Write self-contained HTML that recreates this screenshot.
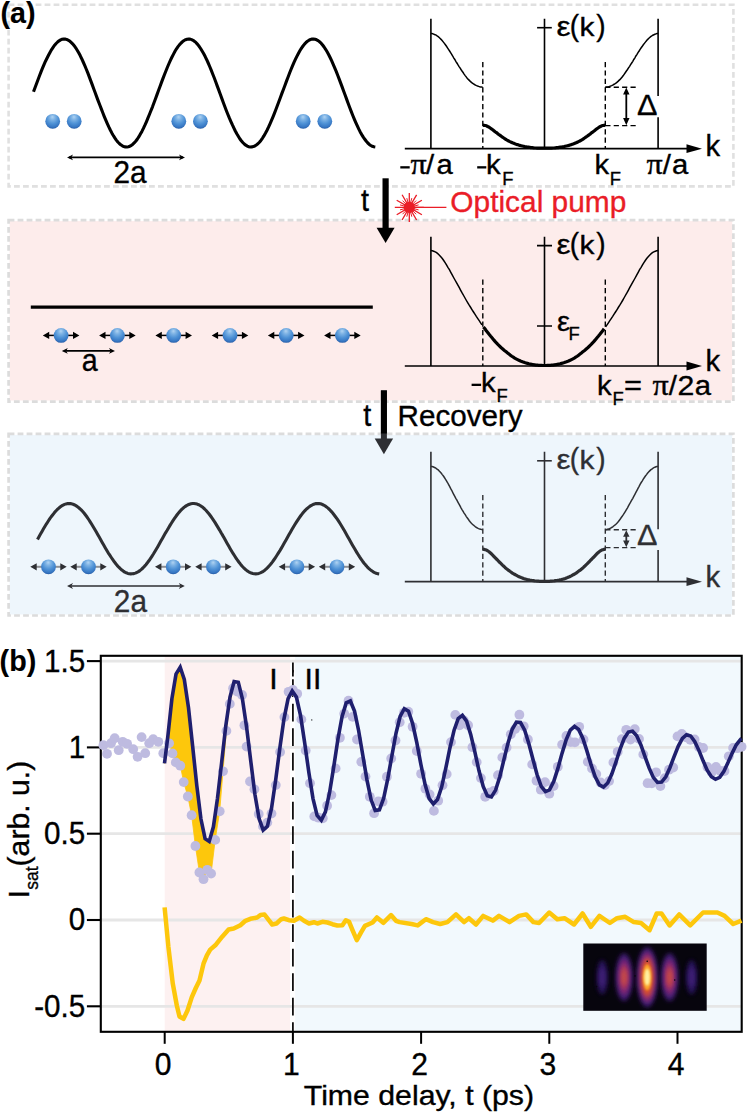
<!DOCTYPE html>
<html><head><meta charset="utf-8"><title>figure</title>
<style>html,body{margin:0;padding:0;background:#fff;}svg{display:block;font-family:"Liberation Sans",sans-serif;}.pi{font-family:"Liberation Serif",serif;}</style>
</head><body>
<svg width="747" height="1113" viewBox="0 0 747 1113">
<defs>
<radialGradient id="ball" cx="0.5" cy="0.32" r="0.72" fx="0.48" fy="0.2"><stop offset="0" stop-color="#b0d3f2"/><stop offset="0.25" stop-color="#7db2e4"/><stop offset="0.55" stop-color="#4f92d6"/><stop offset="0.82" stop-color="#3777c3"/><stop offset="1" stop-color="#23559e"/></radialGradient>
<filter id="blur2" x="-50%" y="-50%" width="200%" height="200%"><feGaussianBlur stdDeviation="2.2"/></filter>
<filter id="blur1" x="-50%" y="-50%" width="200%" height="200%"><feGaussianBlur stdDeviation="1.3"/></filter>
<clipPath id="insetclip"><rect x="583.3" y="943.5" width="123.4" height="67.3"/></clipPath>
<clipPath id="plotclip"><rect x="101" y="656" width="641" height="376"/></clipPath>
</defs>
<rect x="0" y="0" width="747" height="1113" fill="#fff"/>
<rect x="8.6" y="4.8" width="724.8" height="181.6" fill="none" stroke="#e0e0e0" stroke-width="2.6" stroke-dasharray="5.8 3.2"/>
<rect x="9.6" y="221.1" width="722.6" height="179.4" fill="#fdeceb" stroke="none"/>
<rect x="8.6" y="220.1" width="724.8" height="181.5" fill="none" stroke="#dcdcdc" stroke-width="2.7" stroke-dasharray="5.8 3.2"/>
<rect x="9.6" y="434.9" width="722.6" height="179.6" fill="#eef6fc" stroke="none"/>
<rect x="8.6" y="433.8" width="724.8" height="181.7" fill="none" stroke="#dcdcdc" stroke-width="2.7" stroke-dasharray="5.8 3.2"/>
<path d="M33.5 91.8 L35 87.7 L36.5 83.7 L38 79.7 L39.5 75.7 L41 71.9 L42.5 68.2 L44 64.6 L45.5 61.2 L47.1 58 L48.6 55 L50.1 52.2 L51.6 49.6 L53.1 47.3 L54.6 45.2 L56.1 43.5 L57.6 42 L59.1 40.8 L60.6 39.9 L62.1 39.3 L63.6 39 L65.1 39.1 L66.6 39.4 L68.1 40.1 L69.6 41 L71.1 42.3 L72.6 43.8 L74.2 45.7 L75.7 47.8 L77.2 50.2 L78.7 52.8 L80.2 55.6 L81.7 58.7 L83.2 62 L84.7 65.4 L86.2 69 L87.7 72.7 L89.2 76.6 L90.7 80.6 L92.2 84.6 L93.7 88.7 L95.2 92.8 L96.7 96.9 L98.2 100.9 L99.8 105 L101.3 108.9 L102.8 112.8 L104.3 116.6 L105.8 120.2 L107.3 123.6 L108.8 126.9 L110.3 130 L111.8 132.9 L113.3 135.5 L114.8 137.9 L116.3 140.1 L117.8 142 L119.3 143.5 L120.8 144.8 L122.3 145.8 L123.8 146.5 L125.3 146.9 L126.9 147 L128.4 146.7 L129.9 146.2 L131.4 145.3 L132.9 144.2 L134.4 142.7 L135.9 141 L137.4 139 L138.9 136.7 L140.4 134.1 L141.9 131.4 L143.4 128.4 L144.9 125.2 L146.4 121.8 L147.9 118.2 L149.4 114.5 L150.9 110.7 L152.5 106.8 L154 102.8 L155.5 98.7 L157 94.6 L158.5 90.5 L160 86.5 L161.5 82.4 L163 78.4 L164.5 74.5 L166 70.7 L167.5 67 L169 63.5 L170.5 60.2 L172 57 L173.5 54.1 L175 51.3 L176.5 48.8 L178 46.6 L179.6 44.6 L181.1 43 L182.6 41.6 L184.1 40.5 L185.6 39.7 L187.1 39.2 L188.6 39 L190.1 39.1 L191.6 39.6 L193.1 40.3 L194.6 41.4 L196.1 42.7 L197.6 44.4 L199.1 46.3 L200.6 48.5 L202.1 51 L203.6 53.6 L205.2 56.6 L206.7 59.7 L208.2 63 L209.7 66.5 L211.2 70.2 L212.7 74 L214.2 77.8 L215.7 81.8 L217.2 85.9 L218.7 89.9 L220.2 94 L221.7 98.1 L223.2 102.2 L224.7 106.2 L226.2 110.2 L227.7 114 L229.2 117.7 L230.8 121.3 L232.3 124.7 L233.8 127.9 L235.3 131 L236.8 133.8 L238.3 136.3 L239.8 138.7 L241.3 140.7 L242.8 142.5 L244.3 144 L245.8 145.2 L247.3 146.1 L248.8 146.7 L250.3 147 L251.8 146.9 L253.3 146.6 L254.8 146 L256.3 145 L257.9 143.8 L259.4 142.2 L260.9 140.4 L262.4 138.3 L263.9 135.9 L265.4 133.3 L266.9 130.5 L268.4 127.4 L269.9 124.1 L271.4 120.7 L272.9 117.1 L274.4 113.4 L275.9 109.5 L277.4 105.5 L278.9 101.5 L280.4 97.5 L281.9 93.4 L283.5 89.3 L285 85.2 L286.5 81.1 L288 77.2 L289.5 73.3 L291 69.5 L292.5 65.9 L294 62.4 L295.5 59.2 L297 56.1 L298.5 53.2 L300 50.5 L301.5 48.1 L303 46 L304.5 44.1 L306 42.5 L307.5 41.2 L309 40.2 L310.6 39.5 L312.1 39.1 L313.6 39 L315.1 39.2 L316.6 39.8 L318.1 40.6 L319.6 41.8 L321.1 43.2 L322.6 45 L324.1 47 L325.6 49.3 L327.1 51.8 L328.6 54.5 L330.1 57.5 L331.6 60.7 L333.1 64.1 L334.6 67.7 L336.2 71.4 L337.7 75.2 L339.2 79.1 L340.7 83.1 L342.2 87.1 L343.7 91.2 L345.2 95.3 L346.7 99.4 L348.2 103.5 L349.7 107.5 L351.2 111.4 L352.7 115.2 L354.2 118.9 L355.7 122.4 L357.2 125.7 L358.7 128.9 L360.2 131.9 L361.7 134.6 L363.3 137.1 L364.8 139.3 L366.3 141.3 L367.8 143 L369.3 144.4 L370.8 145.5 L372.3 146.3 L373.8 146.8 L375.3 147" fill="none" stroke="#000" stroke-width="3.1" stroke-linejoin="round"/>
<circle cx="52.7" cy="121.3" r="7.4" fill="url(#ball)"/>
<circle cx="74.2" cy="121.3" r="7.4" fill="url(#ball)"/>
<circle cx="178.8" cy="121.3" r="7.4" fill="url(#ball)"/>
<circle cx="200.4" cy="121.3" r="7.4" fill="url(#ball)"/>
<circle cx="303.2" cy="121.3" r="7.4" fill="url(#ball)"/>
<circle cx="324.8" cy="121.3" r="7.4" fill="url(#ball)"/>
<path d="M69 157.4 H183" stroke="#000" stroke-width="1.6" fill="none"/>
<path d="M67 157.4 l6 -2.9 l-1.7 2.9 l1.7 2.9 Z M185 157.4 l-6 -2.9 l1.7 2.9 l-1.7 2.9 Z" fill="#000"/>
<text transform="translate(130 183.2) scale(0.945 1)" font-size="31.5" fill="#000" stroke="#000" stroke-width="0.35" text-anchor="middle" >2a</text>
<text transform="translate(0.4 22.5) scale(1.0 1)" font-size="28.7" fill="#000" stroke="#000" stroke-width="0.1" text-anchor="start" font-weight="bold" >(a)</text>
<path d="M404.8 148.7 H690" stroke="#000" stroke-width="1.7" fill="none"/>
<path d="M702 148.7 l-15.5 -4.4 v8.8 Z" fill="#000"/>
<path d="M430.9 18.8 V148.7 M544.5 18.8 V148.7 M658.1 18.8 V96 M658.1 117.3 V148.7" stroke="#000" stroke-width="1.6" fill="none"/>
<path d="M537.1 27.7 H551.8" stroke="#000" stroke-width="1.6"/>
<path d="M482.8 62 V148.7 M605.3 62 V148.7" stroke="#000" stroke-width="1.4" stroke-dasharray="5.2 3.2" fill="none"/>
<path d="M430.9 33.4 L431.9 33.6 L433 33.9 L434 34.3 L435.1 34.7 L436.1 35.2 L437.1 35.9 L438.2 36.6 L439.2 37.5 L440.2 38.5 L441.3 39.6 L442.3 40.8 L443.4 42.1 L444.4 43.4 L445.4 44.8 L446.5 46.3 L447.5 47.8 L448.5 49.3 L449.6 51 L450.6 52.6 L451.7 54.3 L452.7 56 L453.7 57.8 L454.8 59.5 L455.8 61.3 L456.9 63 L457.9 64.7 L458.9 66.3 L460 67.9 L461 69.5 L462 71 L463.1 72.5 L464.1 74.1 L465.2 75.6 L466.2 76.9 L467.2 78.2 L468.3 79.4 L469.3 80.4 L470.3 81.4 L471.4 82.3 L472.4 83.1 L473.5 83.9 L474.5 84.5 L475.5 85.1 L476.6 85.6 L477.6 86 L478.6 86.4 L479.7 86.7 L480.7 86.9 L481.8 87.1 L482.8 87.2" fill="none" stroke="#000" stroke-width="1.5"/>
<path d="M605.3 87.2 L606.4 87.1 L607.4 86.9 L608.5 86.7 L609.5 86.4 L610.6 86 L611.6 85.6 L612.7 85.1 L613.7 84.5 L614.8 83.9 L615.9 83.1 L616.9 82.3 L618 81.4 L619 80.4 L620.1 79.4 L621.1 78.2 L622.2 76.9 L623.3 75.6 L624.3 74.1 L625.4 72.5 L626.4 71 L627.5 69.5 L628.5 67.9 L629.6 66.3 L630.6 64.7 L631.7 63 L632.8 61.3 L633.8 59.5 L634.9 57.8 L635.9 56 L637 54.3 L638 52.6 L639.1 51 L640.1 49.3 L641.2 47.8 L642.3 46.3 L643.3 44.8 L644.4 43.4 L645.4 42.1 L646.5 40.8 L647.5 39.6 L648.6 38.5 L649.7 37.5 L650.7 36.6 L651.8 35.9 L652.8 35.2 L653.9 34.7 L654.9 34.3 L656 33.9 L657 33.6 L658.1 33.4" fill="none" stroke="#000" stroke-width="1.5"/>
<path d="M482.8 125.2 L484 125.3 L485.3 125.5 L486.5 125.8 L487.7 126.5 L489 127.2 L490.2 128 L491.4 128.8 L492.7 129.7 L493.9 130.7 L495.1 131.7 L496.4 132.6 L497.6 133.6 L498.8 134.5 L500.1 135.4 L501.3 136.3 L502.5 137.2 L503.8 138 L505 138.8 L506.2 139.6 L507.5 140.3 L508.7 141 L509.9 141.6 L511.2 142.2 L512.4 142.8 L513.7 143.3 L514.9 143.8 L516.1 144.2 L517.4 144.6 L518.6 145 L519.8 145.4 L521.1 145.7 L522.3 146 L523.5 146.3 L524.8 146.6 L526 146.8 L527.2 147.1 L528.5 147.2 L529.7 147.4 L530.9 147.6 L532.2 147.7 L533.4 147.8 L534.6 148 L535.9 148 L537.1 148.1 L538.3 148.1 L539.6 148.2 L540.8 148.2 L542 148.2 L543.3 148.2 L544.5 148.2 L545.7 148.2 L546.9 148.2 L548.1 148.2 L549.4 148.2 L550.6 148.1 L551.8 148.1 L553 148 L554.2 148 L555.4 147.8 L556.7 147.7 L557.9 147.6 L559.1 147.4 L560.3 147.2 L561.5 147.1 L562.7 146.8 L564 146.6 L565.2 146.3 L566.4 146 L567.6 145.7 L568.8 145.4 L570 145 L571.3 144.6 L572.5 144.2 L573.7 143.8 L574.9 143.3 L576.1 142.8 L577.3 142.2 L578.5 141.6 L579.8 141 L581 140.3 L582.2 139.6 L583.4 138.8 L584.6 138 L585.8 137.2 L587.1 136.3 L588.3 135.4 L589.5 134.5 L590.7 133.6 L591.9 132.6 L593.1 131.7 L594.4 130.7 L595.6 129.7 L596.8 128.8 L598 128 L599.2 127.2 L600.4 126.5 L601.7 125.8 L602.9 125.5 L604.1 125.3 L605.3 125.2" fill="none" stroke="#000" stroke-width="3.2" stroke-linejoin="round"/>
<path d="M605.3 87.2 H637 M605.3 125.6 H637" stroke="#000" stroke-width="1.4" stroke-dasharray="5.2 3.2" fill="none"/>
<path d="M626.3 93.6 V119" stroke="#000" stroke-width="1.8"/>
<path d="M626.3 87.4 l-3.2 7.2 h6.4 Z M626.3 125.2 l-3.2 -7.2 h6.4 Z" fill="#000"/>
<text transform="translate(636.9 115.2) scale(1.02 1)" font-size="30" fill="#000" stroke="#000" stroke-width="0.35" text-anchor="start" >&#916;</text>
<text transform="translate(556.6 35.9) scale(1.12 1)" font-size="28" fill="#000" stroke="#000" stroke-width="0.35">&#949;</text>
<text transform="translate(569.8 36.2) scale(0.95 1)" font-size="29.6" fill="#000" stroke="#000" stroke-width="0.35">(</text>
<text transform="translate(579.6 35.9) scale(1.15 1)" font-size="26" fill="#000" stroke="#000" stroke-width="0.35">k</text>
<text transform="translate(596.2 36.2) scale(0.95 1)" font-size="29.6" fill="#000" stroke="#000" stroke-width="0.35">)</text>
<text transform="translate(705.4 156.4) scale(1.0 1)" font-size="29.3" fill="#000" stroke="#000" stroke-width="0.35" text-anchor="start" >k</text>
<rect x="400.3" y="166.2" width="9.4" height="2.3" fill="#000"/>
<text transform="translate(410.6 174.2) scale(1.07 1)" font-size="30" fill="#000" stroke="#000" stroke-width="0.35" class="pi">&#960;</text>
<text transform="translate(426 174.2) scale(1.045 1)" font-size="28" fill="#000" stroke="#000" stroke-width="0.35">/</text>
<text transform="translate(436.4 174.2) scale(1.045 1)" font-size="28" fill="#000" stroke="#000" stroke-width="0.35">a</text>
<rect x="477.2" y="166.2" width="9.1" height="2.3" fill="#000"/>
<text transform="translate(486.1 174.2) scale(1.045 1)" font-size="28" fill="#000" stroke="#000" stroke-width="0.35">k</text>
<text transform="translate(502.3 184.5) scale(1.045 1)" font-size="17.6" fill="#000" stroke="#000" stroke-width="0.35">F</text>
<text transform="translate(594.6 174.2) scale(1.045 1)" font-size="28" fill="#000" stroke="#000" stroke-width="0.35">k</text>
<text transform="translate(609.7 184.5) scale(1.045 1)" font-size="17.6" fill="#000" stroke="#000" stroke-width="0.35">F</text>
<text transform="translate(646.5 174.2) scale(1.07 1)" font-size="30" fill="#000" stroke="#000" stroke-width="0.35" class="pi">&#960;</text>
<text transform="translate(662.8 174.2) scale(1.045 1)" font-size="28" fill="#000" stroke="#000" stroke-width="0.35">/</text>
<text transform="translate(671.9 174.2) scale(1.045 1)" font-size="28" fill="#000" stroke="#000" stroke-width="0.35">a</text>
<path d="M385.6 178.3 V228.8" stroke="#000" stroke-width="6.2"/>
<path d="M376.6 227.8 L394.6 227.8 L385.6 243 Z" fill="#000"/>
<text transform="translate(360.9 211.1) scale(0.93 1)" font-size="31" fill="#000" stroke="#000" stroke-width="0.35" text-anchor="start" >t</text>
<path d="M409.3 207.4 L423.8 207.4 M409.3 207.4 L421.9 214.7 M409.3 207.4 L416.6 220 M409.3 207.4 L409.3 221.9 M409.3 207.4 L402.1 220 M409.3 207.4 L396.7 214.7 M409.3 207.4 L394.8 207.4 M409.3 207.4 L396.7 200.2 M409.3 207.4 L402.1 194.8 M409.3 207.4 L409.3 192.9 M409.3 207.4 L416.6 194.8 M409.3 207.4 L421.9 200.2" stroke="#ea1d27" stroke-width="1.3" fill="none"/>
<path d="M409.3 207.4 L418.6 209.9 M409.3 207.4 L416.1 214.2 M409.3 207.4 L411.8 216.7 M409.3 207.4 L406.8 216.7 M409.3 207.4 L402.5 214.2 M409.3 207.4 L400 209.9 M409.3 207.4 L400 204.9 M409.3 207.4 L402.5 200.6 M409.3 207.4 L406.8 198.1 M409.3 207.4 L411.8 198.1 M409.3 207.4 L416.1 200.6 M409.3 207.4 L418.6 204.9" stroke="#ea1d27" stroke-width="1.0" fill="none"/>
<circle cx="409.3" cy="207.4" r="5.6" fill="#ea1d27"/>
<path d="M409.3 207.4 H446.4" stroke="#ea1d27" stroke-width="1.3"/>
<text transform="translate(450.3 211.7) scale(0.996 1)" font-size="30" fill="#ea1d27" stroke="#ea1d27" stroke-width="0.35" text-anchor="start" >Optical pump</text>
<path d="M30.8 307.2 H372.8" stroke="#000" stroke-width="3.2"/>
<path d="M48.2 335.4 H74" stroke="#000" stroke-width="1.5" fill="none"/>
<path d="M42.8 335.4 l6.4 -3.6 v7.2 Z M79.4 335.4 l-6.4 -3.6 v7.2 Z" fill="#000"/>
<circle cx="61.1" cy="335.4" r="7.4" fill="url(#ball)"/>
<path d="M104.5 335.4 H130.3" stroke="#000" stroke-width="1.5" fill="none"/>
<path d="M99.1 335.4 l6.4 -3.6 v7.2 Z M135.7 335.4 l-6.4 -3.6 v7.2 Z" fill="#000"/>
<circle cx="117.4" cy="335.4" r="7.4" fill="url(#ball)"/>
<path d="M160.8 335.4 H186.6" stroke="#000" stroke-width="1.5" fill="none"/>
<path d="M155.4 335.4 l6.4 -3.6 v7.2 Z M192 335.4 l-6.4 -3.6 v7.2 Z" fill="#000"/>
<circle cx="173.7" cy="335.4" r="7.4" fill="url(#ball)"/>
<path d="M217.1 335.4 H242.9" stroke="#000" stroke-width="1.5" fill="none"/>
<path d="M211.7 335.4 l6.4 -3.6 v7.2 Z M248.3 335.4 l-6.4 -3.6 v7.2 Z" fill="#000"/>
<circle cx="230" cy="335.4" r="7.4" fill="url(#ball)"/>
<path d="M273.3 335.4 H299.1" stroke="#000" stroke-width="1.5" fill="none"/>
<path d="M267.9 335.4 l6.4 -3.6 v7.2 Z M304.5 335.4 l-6.4 -3.6 v7.2 Z" fill="#000"/>
<circle cx="286.2" cy="335.4" r="7.4" fill="url(#ball)"/>
<path d="M329.5 335.4 H355.3" stroke="#000" stroke-width="1.5" fill="none"/>
<path d="M324.1 335.4 l6.4 -3.6 v7.2 Z M360.7 335.4 l-6.4 -3.6 v7.2 Z" fill="#000"/>
<circle cx="342.4" cy="335.4" r="7.4" fill="url(#ball)"/>
<path d="M63.8 350.9 H113" stroke="#000" stroke-width="1.6" fill="none"/>
<path d="M61.8 350.9 l6 -2.9 l-1.7 2.9 l1.7 2.9 Z M115 350.9 l-6 -2.9 l1.7 2.9 l-1.7 2.9 Z" fill="#000"/>
<text transform="translate(89.8 371.4) scale(0.93 1)" font-size="30.8" fill="#000" stroke="#000" stroke-width="0.35" text-anchor="middle" >a</text>
<path d="M404.8 366 H690" stroke="#000" stroke-width="1.7" fill="none"/>
<path d="M702 366 l-15.5 -4.4 v8.8 Z" fill="#000"/>
<path d="M430.9 236.8 V366 M544.5 236.8 V366 M658.1 236.8 V366" stroke="#000" stroke-width="1.6" fill="none"/>
<path d="M537 245.6 H552 M537 326 H552" stroke="#000" stroke-width="1.6"/>
<path d="M482.8 279.6 V366 M605.3 279.6 V366" stroke="#000" stroke-width="1.4" stroke-dasharray="5.2 3.2" fill="none"/>
<path d="M430.9 250.4 L432.3 250.7 L433.7 251.2 L435.2 251.8 L436.6 252.7 L438 253.8 L439.4 255.2 L440.8 256.7 L442.3 258.5 L443.7 260.5 L445.1 262.6 L446.5 264.9 L447.9 267.3 L449.4 269.7 L450.8 272.3 L452.2 274.9 L453.6 277.5 L455 280 L456.5 282.6 L457.9 285.1 L459.3 287.7 L460.7 290.3 L462.1 292.9 L463.6 295.5 L465 298 L466.4 300.5 L467.8 302.9 L469.2 305.2 L470.7 307.5 L472.1 309.8 L473.5 312 L474.9 314.2 L476.3 316.4 L477.8 318.6 L479.2 320.7 L480.6 322.8 L482 324.9" fill="none" stroke="#000" stroke-width="1.5"/>
<path d="M605.6 326.9 L607 324.9 L608.4 322.8 L609.8 320.7 L611.2 318.6 L612.7 316.4 L614.1 314.2 L615.5 312 L616.9 309.8 L618.3 307.5 L619.8 305.2 L621.2 302.9 L622.6 300.5 L624 298 L625.4 295.5 L626.9 292.9 L628.3 290.3 L629.7 287.7 L631.1 285.1 L632.5 282.6 L634 280 L635.4 277.5 L636.8 274.9 L638.2 272.3 L639.6 269.7 L641.1 267.3 L642.5 264.9 L643.9 262.6 L645.3 260.5 L646.7 258.5 L648.2 256.7 L649.6 255.2 L651 253.8 L652.4 252.7 L653.8 251.8 L655.3 251.2 L656.7 250.7 L658.1 250.4" fill="none" stroke="#000" stroke-width="1.5"/>
<path d="M483.4 326.9 L484.9 328.8 L486.3 330.7 L487.7 332.5 L489.1 334.3 L490.5 336 L492 337.7 L493.4 339.4 L494.8 341.1 L496.2 342.7 L497.6 344.2 L499.1 345.6 L500.5 347 L501.9 348.3 L503.3 349.5 L504.7 350.7 L506.2 351.8 L507.6 353 L509 354.1 L510.4 355.2 L511.8 356.3 L513.3 357.2 L514.7 358.1 L516.1 358.9 L517.5 359.6 L518.9 360.3 L520.4 361 L521.8 361.5 L523.2 362.1 L524.6 362.6 L526 363 L527.5 363.4 L528.9 363.8 L530.3 364.1 L531.7 364.4 L533.1 364.7 L534.6 364.9 L536 365.1 L537.4 365.2 L538.8 365.3 L540.2 365.4 L541.7 365.4 L543.1 365.5 L544.5 365.5 L545.9 365.5 L547.3 365.4 L548.8 365.4 L550.2 365.3 L551.6 365.2 L553 365.1 L554.4 364.9 L555.9 364.7 L557.3 364.4 L558.7 364.1 L560.1 363.8 L561.5 363.4 L563 363 L564.4 362.6 L565.8 362.1 L567.2 361.5 L568.6 361 L570.1 360.3 L571.5 359.6 L572.9 358.9 L574.3 358.1 L575.7 357.2 L577.2 356.3 L578.6 355.2 L580 354.1 L581.4 353 L582.8 351.8 L584.3 350.7 L585.7 349.5 L587.1 348.3 L588.5 347 L589.9 345.6 L591.4 344.2 L592.8 342.7 L594.2 341.1 L595.6 339.4 L597 337.7 L598.5 336 L599.9 334.3 L601.3 332.5 L602.7 330.7 L604.1 328.8" fill="none" stroke="#000" stroke-width="3.2"/>
<text transform="translate(556.6 254) scale(1.12 1)" font-size="28" fill="#000" stroke="#000" stroke-width="0.35">&#949;</text>
<text transform="translate(569.8 254.3) scale(0.95 1)" font-size="29.6" fill="#000" stroke="#000" stroke-width="0.35">(</text>
<text transform="translate(579.6 254) scale(1.15 1)" font-size="26" fill="#000" stroke="#000" stroke-width="0.35">k</text>
<text transform="translate(596.2 254.3) scale(0.95 1)" font-size="29.6" fill="#000" stroke="#000" stroke-width="0.35">)</text>
<text transform="translate(557 330.5) scale(1.045 1)" font-size="28" fill="#000" stroke="#000" stroke-width="0.35">&#949;</text>
<text transform="translate(568.5 340) scale(1.045 1)" font-size="17.6" fill="#000" stroke="#000" stroke-width="0.35">F</text>
<text transform="translate(705.4 370.7) scale(1.0 1)" font-size="29.3" fill="#000" stroke="#000" stroke-width="0.35" text-anchor="start" >k</text>
<rect x="471.6" y="383.7" width="9.5" height="2.3" fill="#000"/>
<text transform="translate(481.1 392.4) scale(1.045 1)" font-size="28" fill="#000" stroke="#000" stroke-width="0.35">k</text>
<text transform="translate(496.6 402.2) scale(1.045 1)" font-size="17.6" fill="#000" stroke="#000" stroke-width="0.35">F</text>
<text transform="translate(597 394.6) scale(1.045 1)" font-size="28" fill="#000" stroke="#000" stroke-width="0.35">k</text>
<text transform="translate(612.5 405.2) scale(1.045 1)" font-size="17.6" fill="#000" stroke="#000" stroke-width="0.35">F</text>
<text transform="translate(624.1 394.6) scale(1.1 1)" font-size="28" fill="#000" stroke="#000" stroke-width="0.35">=</text>
<text transform="translate(652.4 394.6) scale(1.07 1)" font-size="30" fill="#000" stroke="#000" stroke-width="0.35" class="pi">&#960;</text>
<text transform="translate(668.7 394.6) scale(1.045 1)" font-size="28" fill="#000" stroke="#000" stroke-width="0.35">/</text>
<text transform="translate(677.5 394.6) scale(1.08 1)" font-size="28" fill="#000" stroke="#000" stroke-width="0.35">2</text>
<text transform="translate(694.7 394.6) scale(1.045 1)" font-size="28" fill="#000" stroke="#000" stroke-width="0.35">a</text>
<path d="M383.9 390.4 V439.5" stroke="#2e2f33" stroke-width="6.0"/>
<path d="M374.7 438.5 L393.1 438.5 L383.9 454.2 Z" fill="#2e2f33"/>
<path d="M383.9 390.4 V433.5" stroke="#000" stroke-width="6.0"/>
<text transform="translate(363.2 426.2) scale(0.93 1)" font-size="31" fill="#000" stroke="#000" stroke-width="0.35" text-anchor="start" >t</text>
<text transform="translate(397.5 425.8) scale(1.005 1)" font-size="29.5" fill="#000" stroke="#000" stroke-width="0.35" text-anchor="start" >Recovery</text>
<path d="M37.5 539.4 L39 536.7 L40.5 534.1 L42 531.4 L43.5 528.8 L45 526.3 L46.5 523.8 L48 521.5 L49.5 519.2 L51 517 L52.6 515 L54.1 513.1 L55.6 511.3 L57.1 509.7 L58.6 508.3 L60.1 507 L61.6 505.9 L63.1 505.1 L64.6 504.4 L66.1 503.9 L67.6 503.6 L69.1 503.5 L70.6 503.6 L72.1 503.9 L73.6 504.5 L75.1 505.2 L76.6 506.1 L78.1 507.2 L79.6 508.5 L81.2 509.9 L82.7 511.5 L84.2 513.3 L85.7 515.3 L87.2 517.3 L88.7 519.5 L90.2 521.8 L91.7 524.2 L93.2 526.7 L94.7 529.2 L96.2 531.8 L97.7 534.5 L99.2 537.1 L100.7 539.8 L102.2 542.5 L103.7 545.1 L105.2 547.7 L106.7 550.3 L108.2 552.8 L109.8 555.2 L111.3 557.5 L112.8 559.7 L114.3 561.8 L115.8 563.7 L117.3 565.6 L118.8 567.2 L120.3 568.7 L121.8 570 L123.3 571.1 L124.8 572.1 L126.3 572.8 L127.8 573.4 L129.3 573.7 L130.8 573.9 L132.3 573.8 L133.8 573.6 L135.3 573.1 L136.8 572.5 L138.4 571.6 L139.9 570.6 L141.4 569.4 L142.9 568 L144.4 566.4 L145.9 564.7 L147.4 562.8 L148.9 560.8 L150.4 558.6 L151.9 556.3 L153.4 554 L154.9 551.5 L156.4 549 L157.9 546.4 L159.4 543.8 L160.9 541.1 L162.4 538.5 L163.9 535.8 L165.4 533.1 L167 530.5 L168.5 527.9 L170 525.4 L171.5 523 L173 520.6 L174.5 518.4 L176 516.3 L177.5 514.3 L179 512.4 L180.5 510.7 L182 509.2 L183.5 507.8 L185 506.6 L186.5 505.6 L188 504.8 L189.5 504.2 L191 503.7 L192.5 503.5 L194 503.5 L195.6 503.7 L197.1 504.1 L198.6 504.7 L200.1 505.5 L201.6 506.5 L203.1 507.6 L204.6 509 L206.1 510.5 L207.6 512.2 L209.1 514 L210.6 516 L212.1 518.1 L213.6 520.3 L215.1 522.6 L216.6 525.1 L218.1 527.6 L219.6 530.1 L221.1 532.8 L222.7 535.4 L224.2 538.1 L225.7 540.8 L227.2 543.4 L228.7 546.1 L230.2 548.7 L231.7 551.2 L233.2 553.7 L234.7 556 L236.2 558.3 L237.7 560.5 L239.2 562.5 L240.7 564.4 L242.2 566.2 L243.7 567.8 L245.2 569.2 L246.7 570.4 L248.2 571.5 L249.7 572.4 L251.3 573.1 L252.8 573.5 L254.3 573.8 L255.8 573.9 L257.3 573.8 L258.8 573.4 L260.3 572.9 L261.8 572.2 L263.3 571.3 L264.8 570.2 L266.3 568.9 L267.8 567.4 L269.3 565.8 L270.8 564 L272.3 562.1 L273.8 560 L275.3 557.8 L276.8 555.5 L278.3 553.1 L279.9 550.6 L281.4 548.1 L282.9 545.5 L284.4 542.8 L285.9 540.2 L287.4 537.5 L288.9 534.8 L290.4 532.2 L291.9 529.6 L293.4 527 L294.9 524.5 L296.4 522.1 L297.9 519.8 L299.4 517.6 L300.9 515.5 L302.4 513.6 L303.9 511.8 L305.4 510.1 L306.9 508.7 L308.5 507.4 L310 506.2 L311.5 505.3 L313 504.5 L314.5 504 L316 503.6 L317.5 503.5 L319 503.6 L320.5 503.8 L322 504.3 L323.5 505 L325 505.8 L326.5 506.9 L328 508.1 L329.5 509.5 L331 511.1 L332.5 512.8 L334 514.7 L335.5 516.7 L337.1 518.9 L338.6 521.1 L340.1 523.5 L341.6 526 L343.1 528.5 L344.6 531.1 L346.1 533.7 L347.6 536.4 L349.1 539 L350.6 541.7 L352.1 544.4 L353.6 547 L355.1 549.6 L356.6 552.1 L358.1 554.5 L359.6 556.9 L361.1 559.1 L362.6 561.2 L364.1 563.2 L365.7 565.1 L367.2 566.8 L368.7 568.3 L370.2 569.6 L371.7 570.8 L373.2 571.8 L374.7 572.6 L376.2 573.3 L377.7 573.7 L379.2 573.9" fill="none" stroke="#2e2f33" stroke-width="3.1" stroke-linejoin="round"/>
<path d="M35.7 566.8 H61.3" stroke="#8e9094" stroke-width="2.0" fill="none"/>
<path d="M30.3 566.8 l6.4 -3.6 v7.2 Z M66.7 566.8 l-6.4 -3.6 v7.2 Z" fill="#2e2f33"/>
<circle cx="48.5" cy="566.8" r="7.4" fill="url(#ball)"/>
<path d="M75.7 566.8 H101.3" stroke="#8e9094" stroke-width="2.0" fill="none"/>
<path d="M70.3 566.8 l6.4 -3.6 v7.2 Z M106.7 566.8 l-6.4 -3.6 v7.2 Z" fill="#2e2f33"/>
<circle cx="88.5" cy="566.8" r="7.4" fill="url(#ball)"/>
<path d="M160.4 566.8 H186" stroke="#8e9094" stroke-width="2.0" fill="none"/>
<path d="M155 566.8 l6.4 -3.6 v7.2 Z M191.4 566.8 l-6.4 -3.6 v7.2 Z" fill="#2e2f33"/>
<circle cx="173.2" cy="566.8" r="7.4" fill="url(#ball)"/>
<path d="M200.6 566.8 H226.2" stroke="#8e9094" stroke-width="2.0" fill="none"/>
<path d="M195.2 566.8 l6.4 -3.6 v7.2 Z M231.6 566.8 l-6.4 -3.6 v7.2 Z" fill="#2e2f33"/>
<circle cx="213.4" cy="566.8" r="7.4" fill="url(#ball)"/>
<path d="M284.1 566.8 H309.7" stroke="#8e9094" stroke-width="2.0" fill="none"/>
<path d="M278.7 566.8 l6.4 -3.6 v7.2 Z M315.1 566.8 l-6.4 -3.6 v7.2 Z" fill="#2e2f33"/>
<circle cx="296.9" cy="566.8" r="7.4" fill="url(#ball)"/>
<path d="M324.2 566.8 H349.8" stroke="#8e9094" stroke-width="2.0" fill="none"/>
<path d="M318.8 566.8 l6.4 -3.6 v7.2 Z M355.2 566.8 l-6.4 -3.6 v7.2 Z" fill="#2e2f33"/>
<circle cx="337" cy="566.8" r="7.4" fill="url(#ball)"/>
<path d="M69 586 H182.8" stroke="#2e2f33" stroke-width="1.6" fill="none"/>
<path d="M67 586 l6 -2.9 l-1.7 2.9 l1.7 2.9 Z M184.8 586 l-6 -2.9 l1.7 2.9 l-1.7 2.9 Z" fill="#2e2f33"/>
<text transform="translate(130.4 611.8) scale(0.945 1)" font-size="31.5" fill="#2e2f33" stroke="#2e2f33" stroke-width="0.35" text-anchor="middle" >2a</text>
<path d="M404.8 581.7 H690" stroke="#2e2f33" stroke-width="1.7" fill="none"/>
<path d="M702 581.7 l-15.5 -4.4 v8.8 Z" fill="#2e2f33"/>
<path d="M430.9 451.8 V581.7 M544.5 451.8 V581.7 M658.1 451.8 V529.2 M658.1 550 V581.7" stroke="#2e2f33" stroke-width="1.6" fill="none"/>
<path d="M537.1 460.8 H551.8" stroke="#2e2f33" stroke-width="1.6"/>
<path d="M482.8 495 V581.7 M605.3 495 V581.7" stroke="#2e2f33" stroke-width="1.4" stroke-dasharray="5.2 3.2" fill="none"/>
<path d="M430.9 466.4 L431.9 466.5 L433 466.8 L434 467.2 L435.1 467.7 L436.1 468.3 L437.1 469.1 L438.2 469.9 L439.2 470.9 L440.2 472 L441.3 473.2 L442.3 474.6 L443.4 476 L444.4 477.5 L445.4 479.1 L446.5 480.8 L447.5 482.5 L448.5 484.3 L449.6 486.3 L450.6 488.3 L451.7 490.3 L452.7 492.4 L453.7 494.3 L454.8 496.3 L455.8 498.3 L456.9 500.2 L457.9 502.1 L458.9 504 L460 505.9 L461 507.8 L462 509.6 L463.1 511.3 L464.1 513.1 L465.2 514.7 L466.2 516.3 L467.2 517.8 L468.3 519.3 L469.3 520.7 L470.3 522 L471.4 523.2 L472.4 524.2 L473.5 525.2 L474.5 526 L475.5 526.8 L476.6 527.5 L477.6 528.1 L478.6 528.6 L479.7 529.1 L480.7 529.3 L481.8 529.6 L482.8 529.7" fill="none" stroke="#2e2f33" stroke-width="1.5"/>
<path d="M605.3 529.7 L606.4 529.6 L607.4 529.3 L608.5 529.1 L609.5 528.6 L610.6 528.1 L611.6 527.5 L612.7 526.8 L613.7 526 L614.8 525.2 L615.9 524.2 L616.9 523.2 L618 522 L619 520.7 L620.1 519.3 L621.1 517.8 L622.2 516.3 L623.3 514.7 L624.3 513.1 L625.4 511.3 L626.4 509.6 L627.5 507.8 L628.5 505.9 L629.6 504 L630.6 502.1 L631.7 500.2 L632.8 498.3 L633.8 496.3 L634.9 494.3 L635.9 492.4 L637 490.3 L638 488.3 L639.1 486.3 L640.1 484.3 L641.2 482.5 L642.3 480.8 L643.3 479.1 L644.4 477.5 L645.4 476 L646.5 474.6 L647.5 473.2 L648.6 472 L649.7 470.9 L650.7 469.9 L651.8 469.1 L652.8 468.3 L653.9 467.7 L654.9 467.2 L656 466.8 L657 466.5 L658.1 466.4" fill="none" stroke="#2e2f33" stroke-width="1.5"/>
<path d="M482.8 549.2 L484 549.4 L485.3 549.7 L486.5 550.1 L487.7 550.8 L489 551.7 L490.2 552.7 L491.4 553.8 L492.7 555.1 L493.9 556.5 L495.1 557.7 L496.4 559 L497.6 560.2 L498.8 561.5 L500.1 562.7 L501.3 563.9 L502.5 565.1 L503.8 566.3 L505 567.4 L506.2 568.4 L507.5 569.4 L508.7 570.4 L509.9 571.3 L511.2 572.2 L512.4 573.1 L513.7 573.8 L514.9 574.5 L516.1 575.2 L517.4 575.9 L518.6 576.5 L519.8 577.1 L521.1 577.6 L522.3 578 L523.5 578.5 L524.8 578.9 L526 579.2 L527.2 579.6 L528.5 579.8 L529.7 580.1 L530.9 580.3 L532.2 580.5 L533.4 580.7 L534.6 580.9 L535.9 581 L537.1 581.1 L538.3 581.2 L539.6 581.3 L540.8 581.3 L542 581.4 L543.3 581.4 L544.5 581.4 L545.7 581.4 L546.9 581.4 L548.1 581.3 L549.4 581.3 L550.6 581.2 L551.8 581.1 L553 581 L554.2 580.9 L555.4 580.7 L556.7 580.5 L557.9 580.3 L559.1 580.1 L560.3 579.8 L561.5 579.6 L562.7 579.2 L564 578.9 L565.2 578.5 L566.4 578 L567.6 577.6 L568.8 577.1 L570 576.5 L571.3 575.9 L572.5 575.2 L573.7 574.5 L574.9 573.8 L576.1 573.1 L577.3 572.2 L578.5 571.3 L579.8 570.4 L581 569.4 L582.2 568.4 L583.4 567.4 L584.6 566.3 L585.8 565.1 L587.1 563.9 L588.3 562.7 L589.5 561.5 L590.7 560.2 L591.9 559 L593.1 557.7 L594.4 556.5 L595.6 555.1 L596.8 553.8 L598 552.7 L599.2 551.7 L600.4 550.8 L601.7 550.1 L602.9 549.7 L604.1 549.4 L605.3 549.2" fill="none" stroke="#2e2f33" stroke-width="3.2" stroke-linejoin="round"/>
<path d="M605.3 529.7 H637 M605.3 547.6 H637" stroke="#2e2f33" stroke-width="1.4" stroke-dasharray="5.2 3.2" fill="none"/>
<path d="M626.3 535.8 V541.6" stroke="#2e2f33" stroke-width="1.8"/>
<path d="M626.3 530.2 l-3.2 6.6 h6.4 Z M626.3 547.2 l-3.2 -6.6 h6.4 Z" fill="#2e2f33"/>
<text transform="translate(636.9 544.7) scale(1.02 1)" font-size="30" fill="#2e2f33" stroke="#2e2f33" stroke-width="0.35" text-anchor="start" >&#916;</text>
<text transform="translate(556.6 469) scale(1.12 1)" font-size="28" fill="#2e2f33" stroke="#2e2f33" stroke-width="0.35">&#949;</text>
<text transform="translate(569.8 469.3) scale(0.95 1)" font-size="29.6" fill="#2e2f33" stroke="#2e2f33" stroke-width="0.35">(</text>
<text transform="translate(579.6 469) scale(1.15 1)" font-size="26" fill="#2e2f33" stroke="#2e2f33" stroke-width="0.35">k</text>
<text transform="translate(596.2 469.3) scale(0.95 1)" font-size="29.6" fill="#2e2f33" stroke="#2e2f33" stroke-width="0.35">)</text>
<text transform="translate(705.4 587.4) scale(1.0 1)" font-size="29.3" fill="#2e2f33" stroke="#2e2f33" stroke-width="0.35" text-anchor="start" >k</text>
<rect x="100.8" y="655.8" width="640.9" height="376" fill="#fff"/>
<rect x="164.7" y="655.8" width="125.3" height="376" fill="#fdf1f1"/>
<rect x="295.1" y="655.8" width="446.7" height="376" fill="#f2f9fd"/>
<path d="M100.8 661.1 H741.8" stroke="#e6e6e6" stroke-width="2.8"/>
<path d="M100.8 747.4 H741.8" stroke="#e6e6e6" stroke-width="2.8"/>
<path d="M100.8 833.7 H741.8" stroke="#e6e6e6" stroke-width="2.8"/>
<path d="M100.8 920 H741.8" stroke="#e6e6e6" stroke-width="2.8"/>
<path d="M100.8 1006.3 H741.8" stroke="#e6e6e6" stroke-width="2.8"/>
<path d="M292.9 662.5 V1031.8" stroke="#111" stroke-width="1.8" stroke-dasharray="17.9 6.6" stroke-dashoffset="7.8"/>
<path d="M292.9 670 V676.4" stroke="#111" stroke-width="1.8"/>
<rect x="100.8" y="655.8" width="640.9" height="376" fill="none" stroke="#000" stroke-width="2.1"/>
<path d="M86.9 661.1 H100.8" stroke="#000" stroke-width="2.1"/>
<path d="M86.9 747.4 H100.8" stroke="#000" stroke-width="2.1"/>
<path d="M86.9 833.7 H100.8" stroke="#000" stroke-width="2.1"/>
<path d="M86.9 920 H100.8" stroke="#000" stroke-width="2.1"/>
<path d="M86.9 1006.3 H100.8" stroke="#000" stroke-width="2.1"/>
<path d="M164.7 1031.8 V1043.8" stroke="#000" stroke-width="2"/>
<path d="M292.9 1031.8 V1043.8" stroke="#000" stroke-width="2"/>
<path d="M421.1 1031.8 V1043.8" stroke="#000" stroke-width="2"/>
<path d="M549.3 1031.8 V1043.8" stroke="#000" stroke-width="2"/>
<path d="M677.5 1031.8 V1043.8" stroke="#000" stroke-width="2"/>
<g>
<path d="M164.5 763.4 L167.8 736.7 L171.9 698.8 L176 674.1 L180.2 667.3 L184.3 679.5 L188.5 707.7 L192.6 745.8 L196.8 785.6 L200.9 818.8 L205.1 838.7 L209.2 841.4 L213.4 826.8 L217.5 798.2 L221.7 762 L225.8 725.7 L230 697 L233.1 688.2 L229.8 703.9 L226.4 730.9 L223 771.3 L219.7 811.3 L215.2 839.9 L211.1 873.6 L207.3 869.8 L203.5 879.2 L199.4 872.5 L195.4 846 L191.6 815.2 L187.8 796.5 L183.7 782.1 L180.3 765.7 L175.8 762.4 L172.5 753.4 L169.1 743.3 L164.6 752Z" fill="#fdc70c" stroke="#fdc70c" stroke-width="0.8" stroke-linejoin="round"/>
<g fill="#bebbe0">
<circle cx="103.4" cy="745.2" r="4.9"/>
<circle cx="107" cy="753.8" r="4.9"/>
<circle cx="111" cy="743.2" r="4.9"/>
<circle cx="114.7" cy="738.2" r="4.9"/>
<circle cx="118.7" cy="750.2" r="4.9"/>
<circle cx="122.7" cy="741.8" r="4.9"/>
<circle cx="127.1" cy="743.8" r="4.9"/>
<circle cx="133.2" cy="749.2" r="4.9"/>
<circle cx="137.6" cy="756.8" r="4.9"/>
<circle cx="141.6" cy="737.1" r="4.9"/>
<circle cx="145.2" cy="753.2" r="4.9"/>
<circle cx="149.2" cy="743.2" r="4.9"/>
<circle cx="153.2" cy="739.2" r="4.9"/>
<circle cx="158.3" cy="741.8" r="4.9"/>
<circle cx="163.3" cy="753.2" r="4.9"/>
<circle cx="169.1" cy="743.3" r="4.9"/>
<circle cx="172.5" cy="753.4" r="4.9"/>
<circle cx="175.8" cy="762.4" r="4.9"/>
<circle cx="180.3" cy="765.7" r="4.9"/>
<circle cx="183.7" cy="782.1" r="4.9"/>
<circle cx="187.8" cy="796.5" r="4.9"/>
<circle cx="191.6" cy="815.2" r="4.9"/>
<circle cx="195.4" cy="846" r="4.9"/>
<circle cx="199.4" cy="872.5" r="4.9"/>
<circle cx="203.5" cy="879.2" r="4.9"/>
<circle cx="207.3" cy="869.8" r="4.9"/>
<circle cx="211.1" cy="873.6" r="4.9"/>
<circle cx="215.2" cy="839.9" r="4.9"/>
<circle cx="219.7" cy="811.3" r="4.9"/>
<circle cx="223" cy="771.3" r="4.9"/>
<circle cx="226.4" cy="730.9" r="4.9"/>
<circle cx="229.8" cy="703.9" r="4.9"/>
<circle cx="233.1" cy="688.2" r="4.9"/>
<circle cx="237.2" cy="691.6" r="4.9"/>
<circle cx="242.1" cy="695" r="4.9"/>
<circle cx="244.4" cy="725.3" r="4.9"/>
<circle cx="246.6" cy="746.6" r="4.9"/>
<circle cx="250" cy="781.5" r="4.9"/>
<circle cx="254.4" cy="789.3" r="4.9"/>
<circle cx="258.7" cy="814" r="4.9"/>
<circle cx="263" cy="826.4" r="4.9"/>
<circle cx="267.3" cy="822.6" r="4.9"/>
<circle cx="271.5" cy="813.6" r="4.9"/>
<circle cx="275.8" cy="785.1" r="4.9"/>
<circle cx="280.1" cy="752" r="4.9"/>
<circle cx="284.4" cy="717.1" r="4.9"/>
<circle cx="288.6" cy="691.8" r="4.9"/>
<circle cx="292.9" cy="689.9" r="4.9"/>
<circle cx="297.2" cy="693.8" r="4.9"/>
<circle cx="301.4" cy="719.4" r="4.9"/>
<circle cx="305.7" cy="750.5" r="4.9"/>
<circle cx="310" cy="783.2" r="4.9"/>
<circle cx="314.3" cy="816.4" r="4.9"/>
<circle cx="318.5" cy="817.7" r="4.9"/>
<circle cx="322.8" cy="818.3" r="4.9"/>
<circle cx="327.1" cy="805.7" r="4.9"/>
<circle cx="331.4" cy="795.1" r="4.9"/>
<circle cx="335.6" cy="768.4" r="4.9"/>
<circle cx="339.9" cy="737.8" r="4.9"/>
<circle cx="344.2" cy="713.6" r="4.9"/>
<circle cx="348.5" cy="700.7" r="4.9"/>
<circle cx="352.7" cy="716.9" r="4.9"/>
<circle cx="357" cy="739.5" r="4.9"/>
<circle cx="361.3" cy="761.9" r="4.9"/>
<circle cx="365.5" cy="776.6" r="4.9"/>
<circle cx="369.8" cy="796.8" r="4.9"/>
<circle cx="374.1" cy="813.2" r="4.9"/>
<circle cx="378.4" cy="801.3" r="4.9"/>
<circle cx="382.6" cy="801.7" r="4.9"/>
<circle cx="386.9" cy="776.7" r="4.9"/>
<circle cx="391.2" cy="758.5" r="4.9"/>
<circle cx="395.5" cy="740.5" r="4.9"/>
<circle cx="399.7" cy="722.2" r="4.9"/>
<circle cx="404" cy="712.8" r="4.9"/>
<circle cx="408.3" cy="711.7" r="4.9"/>
<circle cx="412.6" cy="726.8" r="4.9"/>
<circle cx="416.8" cy="751" r="4.9"/>
<circle cx="421.1" cy="773.8" r="4.9"/>
<circle cx="425.4" cy="788.7" r="4.9"/>
<circle cx="429.6" cy="794.5" r="4.9"/>
<circle cx="433.9" cy="810.9" r="4.9"/>
<circle cx="438.2" cy="800.7" r="4.9"/>
<circle cx="442.5" cy="785.2" r="4.9"/>
<circle cx="446.7" cy="774.1" r="4.9"/>
<circle cx="451" cy="742.1" r="4.9"/>
<circle cx="455.3" cy="714.9" r="4.9"/>
<circle cx="459.6" cy="725.3" r="4.9"/>
<circle cx="463.8" cy="720.4" r="4.9"/>
<circle cx="468.1" cy="725.2" r="4.9"/>
<circle cx="472.4" cy="747.2" r="4.9"/>
<circle cx="476.7" cy="762.1" r="4.9"/>
<circle cx="480.9" cy="778.1" r="4.9"/>
<circle cx="485.2" cy="796.8" r="4.9"/>
<circle cx="489.5" cy="792.6" r="4.9"/>
<circle cx="493.7" cy="791" r="4.9"/>
<circle cx="498" cy="775.2" r="4.9"/>
<circle cx="502.3" cy="757.4" r="4.9"/>
<circle cx="506.6" cy="747.6" r="4.9"/>
<circle cx="510.8" cy="734.3" r="4.9"/>
<circle cx="515.1" cy="729.1" r="4.9"/>
<circle cx="519.4" cy="714.7" r="4.9"/>
<circle cx="523.7" cy="726.3" r="4.9"/>
<circle cx="527.9" cy="739.5" r="4.9"/>
<circle cx="532.2" cy="764.4" r="4.9"/>
<circle cx="536.5" cy="780.8" r="4.9"/>
<circle cx="540.8" cy="789.7" r="4.9"/>
<circle cx="545" cy="782.1" r="4.9"/>
<circle cx="549.3" cy="793.7" r="4.9"/>
<circle cx="553.6" cy="786" r="4.9"/>
<circle cx="557.8" cy="766.8" r="4.9"/>
<circle cx="562.1" cy="744.6" r="4.9"/>
<circle cx="566.4" cy="736" r="4.9"/>
<circle cx="570.7" cy="742.1" r="4.9"/>
<circle cx="574.9" cy="742.3" r="4.9"/>
<circle cx="579.2" cy="726.8" r="4.9"/>
<circle cx="583.5" cy="739.5" r="4.9"/>
<circle cx="587.8" cy="761.9" r="4.9"/>
<circle cx="592" cy="768.5" r="4.9"/>
<circle cx="596.3" cy="774.1" r="4.9"/>
<circle cx="600.6" cy="782.5" r="4.9"/>
<circle cx="604.9" cy="785.1" r="4.9"/>
<circle cx="609.1" cy="781.1" r="4.9"/>
<circle cx="613.4" cy="762.4" r="4.9"/>
<circle cx="617.7" cy="751.8" r="4.9"/>
<circle cx="621.9" cy="739.1" r="4.9"/>
<circle cx="626.2" cy="729.8" r="4.9"/>
<circle cx="630.5" cy="739.6" r="4.9"/>
<circle cx="634.8" cy="729.1" r="4.9"/>
<circle cx="639" cy="738.9" r="4.9"/>
<circle cx="643.3" cy="754.4" r="4.9"/>
<circle cx="647.6" cy="783.2" r="4.9"/>
<circle cx="651.9" cy="783.3" r="4.9"/>
<circle cx="656.1" cy="772.3" r="4.9"/>
<circle cx="660.4" cy="786.1" r="4.9"/>
<circle cx="664.7" cy="778.2" r="4.9"/>
<circle cx="669" cy="769.7" r="4.9"/>
<circle cx="673.2" cy="767.5" r="4.9"/>
<circle cx="677.5" cy="736.4" r="4.9"/>
<circle cx="681.8" cy="733.9" r="4.9"/>
<circle cx="686" cy="737.4" r="4.9"/>
<circle cx="690.3" cy="739.8" r="4.9"/>
<circle cx="694.6" cy="739.4" r="4.9"/>
<circle cx="698.9" cy="747" r="4.9"/>
<circle cx="703.1" cy="748" r="4.9"/>
<circle cx="707.4" cy="767" r="4.9"/>
<circle cx="711.7" cy="772.3" r="4.9"/>
<circle cx="716" cy="766.9" r="4.9"/>
<circle cx="720.2" cy="770.9" r="4.9"/>
<circle cx="724.5" cy="771" r="4.9"/>
<circle cx="728.8" cy="756.3" r="4.9"/>
<circle cx="733.1" cy="747.9" r="4.9"/>
<circle cx="737.3" cy="748.2" r="4.9"/>
<circle cx="741.6" cy="746.8" r="4.9"/>
</g>
<path d="M164.6 907.4 L168.4 946.9 L172.8 983.7 L176.8 1005.5 L179.5 1016.5 L183.5 1018.9 L187.5 1010.5 L191.8 997.1 L195.8 988 L199.5 980.4 L203.5 963.7 L206.9 955.3 L210.2 949.6 L215.3 945.3 L222 936.9 L228.6 929.5 L233.7 928.5 L240.4 925.2 L245.4 920.8 L250.4 918.8 L257.1 917.5 L260.4 915.1 L264.5 914.5 L268.8 920.2 L272.2 924.5 L276.5 923.5 L281.2 919.2 L283.9 918.5 L288.9 920.2 L293.9 920.8 L299.6 917.5 L304 920.8 L309 923.5 L314 922.2 L317.3 923.5 L322.4 921.8 L327.4 922.5 L332.4 924.2 L337.4 925.5 L342.4 925.2 L345.8 920.2 L349.1 921.8 L352.5 930.2 L356.8 940.2 L360.8 932.9 L364.9 925.9 L372.6 922.5 L376.9 917.5 L383.3 922.8 L391 915.1 L396 920.8 L399.6 922.1 L411.5 924 L417.7 925.4 L425.9 919.2 L433 922.1 L440.2 924 L447.4 922.1 L456 914.4 L464.1 922.1 L468.9 918.2 L476 924.5 L483.2 915.9 L492.8 920.6 L499 915.9 L509.5 922.1 L519 915.9 L526.2 914.4 L533.4 922.1 L539.1 923 L549.2 912.5 L557.3 919.2 L564.5 918.2 L574 924.5 L582.6 913.5 L590.8 926.8 L599.4 915.9 L609.9 923 L617 918.2 L625.2 916.8 L633.8 922.1 L641 923 L649.6 930.2 L656.7 913.5 L661.5 913.5 L669.6 925.4 L679.2 914.4 L690.2 925.4 L703.1 912.5 L717.4 912.5 L724.6 915.9 L733.2 924 L741.5 920.6" fill="none" stroke="#fdc70c" stroke-width="4.5" stroke-linejoin="round" stroke-linecap="butt"/>
<path d="M164.5 763.4 L167.8 736.7 L171.9 698.8 L176 674.1 L180.2 667.3 L184.3 679.5 L188.5 707.7 L192.6 745.8 L196.8 785.6 L200.9 818.8 L205.1 838.7 L209.2 841.4 L213.4 826.8 L217.5 798.2 L221.7 762 L225.8 725.7 L230 697 L234.1 681.6 L238.3 682.3 L242.4 698.8 L246.6 727.2 L250.8 761.4 L254.9 794.2 L259.1 818.7 L263.2 830.1 L267.4 826.3 L271.5 808.4 L275.6 780.5 L279.8 748.6 L283.9 719.3 L288.1 698.7 L292.2 690.9 L296.4 697.1 L300.6 715.9 L304.7 743 L308.9 772.7 L313 798.6 L317.1 815.5 L321.3 820.2 L325.4 811.8 L329.6 792.5 L333.8 766.4 L337.9 739.2 L342.1 716.5 L346.2 702.9 L350.4 701 L354.5 711 L358.6 730.5 L362.8 755.3 L367 780.1 L371.1 799.8 L375.2 810.4 L379.4 809.8 L383.6 798.5 L387.7 779.1 L391.9 755.7 L396 733.3 L400.1 716.5 L404.3 708.7 L408.5 711.3 L412.6 723.5 L416.8 742.6 L420.9 764.5 L425.1 784.5 L429.2 798.6 L433.4 803.9 L437.5 799.6 L441.7 786.8 L445.8 768.2 L449.9 748 L454.1 730.2 L458.2 718.6 L462.4 715.4 L466.6 721.1 L470.7 734.4 L474.9 752.2 L479 770.8 L483.2 786.4 L487.3 795.7 L491.4 796.9 L495.6 790.1 L499.8 776.7 L503.9 759.7 L508.1 742.8 L512.2 729.3 L516.4 722.1 L520.5 722.5 L524.7 730.2 L528.8 743.5 L533 759.5 L537.1 774.8 L541.2 786.3 L545.4 791.6 L549.5 789.8 L553.7 781.5 L557.9 768.4 L562 753.4 L566.2 739.7 L570.3 730.1 L574.5 726.4 L578.6 729.4 L582.8 738.2 L586.9 750.9 L591 764.7 L595.2 776.9 L599.4 784.8 L603.5 787 L607.7 783 L611.8 774 L616 761.8 L620.1 749 L624.2 738.4 L628.4 732 L632.5 731.2 L636.7 735.8 L640.9 745 L645 756.6 L649.2 768.2 L653.3 777.4 L657.5 782.3 L661.6 782.1 L665.8 776.8 L669.9 767.7 L674 756.8 L678.2 746.3 L682.4 738.4 L686.5 734.7 L690.7 736 L694.8 741.7 L699 750.6 L703.1 760.8 L707.2 770.2 L711.4 776.8 L715.5 779.3 L719.7 777.3 L723.9 771.3 L728 762.6 L732.2 753.1 L736.3 744.8 L740.5 739.4 L741.6 738.5" fill="none" stroke="#1f1f6e" stroke-width="3.6" stroke-linejoin="miter" stroke-miterlimit="4"/>
</g>
<rect x="583.3" y="943.5" width="123.4" height="67.3" fill="#07050d"/>
<g clip-path="url(#insetclip)">
<ellipse cx="602.2" cy="977.2" rx="5.5" ry="17" fill="#2c1660" opacity="0.95" filter="url(#blur2)"/>
<ellipse cx="602.2" cy="977.2" rx="3" ry="10" fill="#45207c" opacity="0.85" filter="url(#blur2)"/>
<ellipse cx="691.6" cy="977.2" rx="5.5" ry="17" fill="#2c1660" opacity="0.95" filter="url(#blur2)"/>
<ellipse cx="691.6" cy="977.2" rx="3" ry="10" fill="#45207c" opacity="0.85" filter="url(#blur2)"/>
<ellipse cx="624.1" cy="977.2" rx="8.5" ry="24" fill="#3d1a70" opacity="1" filter="url(#blur2)"/>
<ellipse cx="624.1" cy="977.2" rx="6" ry="18" fill="#7f2876" opacity="1" filter="url(#blur2)"/>
<ellipse cx="624.1" cy="977.2" rx="3.8" ry="12" fill="#b93d52" opacity="0.95" filter="url(#blur2)"/>
<ellipse cx="624.1" cy="977.2" rx="2" ry="7" fill="#cf5340" opacity="0.8" filter="url(#blur2)"/>
<ellipse cx="669.6" cy="977.2" rx="8.5" ry="24" fill="#3d1a70" opacity="1" filter="url(#blur2)"/>
<ellipse cx="669.6" cy="977.2" rx="6" ry="18" fill="#7f2876" opacity="1" filter="url(#blur2)"/>
<ellipse cx="669.6" cy="977.2" rx="3.8" ry="12" fill="#b93d52" opacity="0.95" filter="url(#blur2)"/>
<ellipse cx="669.6" cy="977.2" rx="2" ry="7" fill="#cf5340" opacity="0.8" filter="url(#blur2)"/>
<ellipse cx="647.2" cy="977.2" rx="10.5" ry="30" fill="#3d1a70" opacity="1" filter="url(#blur2)"/>
<ellipse cx="647.2" cy="977.2" rx="8.2" ry="25" fill="#8a2a74" opacity="1" filter="url(#blur2)"/>
<ellipse cx="647.2" cy="977.2" rx="6.2" ry="19" fill="#d9512f" opacity="1" filter="url(#blur2)"/>
<ellipse cx="647.2" cy="977.2" rx="4.4" ry="13" fill="#fba42a" opacity="1" filter="url(#blur1)"/>
<ellipse cx="647.2" cy="977.2" rx="2.8" ry="8.5" fill="#fff0a0" opacity="1" filter="url(#blur1)"/>
<circle cx="647.2" cy="961.2" r="0.8" fill="#07050d"/>
<circle cx="635" cy="975.9" r="0.8" fill="#07050d"/>
<circle cx="674.7" cy="980" r="0.8" fill="#07050d"/>
<circle cx="596.6" cy="986.5" r="0.8" fill="#07050d"/>
</g>
<text transform="translate(85.2 671.5) scale(0.955 1)" font-size="31.0" fill="#000" stroke="#000" stroke-width="0.35" text-anchor="end" >1.5</text>
<text transform="translate(85.2 757.8) scale(0.955 1)" font-size="31.0" fill="#000" stroke="#000" stroke-width="0.35" text-anchor="end" >1</text>
<text transform="translate(85.2 844.1) scale(0.955 1)" font-size="31.0" fill="#000" stroke="#000" stroke-width="0.35" text-anchor="end" >0.5</text>
<text transform="translate(85.2 930.4) scale(0.955 1)" font-size="31.0" fill="#000" stroke="#000" stroke-width="0.35" text-anchor="end" >0</text>
<text transform="translate(85.2 1016.7) scale(0.955 1)" font-size="31.0" fill="#000" stroke="#000" stroke-width="0.35" text-anchor="end" >-0.5</text>
<text transform="translate(163.2 1075) scale(0.97 1)" font-size="31.0" fill="#000" stroke="#000" stroke-width="0.35" text-anchor="middle" >0</text>
<text transform="translate(291.4 1075) scale(0.97 1)" font-size="31.0" fill="#000" stroke="#000" stroke-width="0.35" text-anchor="middle" >1</text>
<text transform="translate(419.6 1075) scale(0.97 1)" font-size="31.0" fill="#000" stroke="#000" stroke-width="0.35" text-anchor="middle" >2</text>
<text transform="translate(547.8 1075) scale(0.97 1)" font-size="31.0" fill="#000" stroke="#000" stroke-width="0.35" text-anchor="middle" >3</text>
<text transform="translate(676 1075) scale(0.97 1)" font-size="31.0" fill="#000" stroke="#000" stroke-width="0.35" text-anchor="middle" >4</text>
<text transform="translate(303.8 1105) scale(1.062 1)" font-size="28.5" fill="#000" stroke="#000" stroke-width="0.35" text-anchor="start" >Time delay, t (ps)</text>
<text transform="translate(-0.4 670.8) scale(1.0 1)" font-size="28.7" fill="#000" stroke="#000" stroke-width="0.1" text-anchor="start" font-weight="bold" >(b)</text>
<text transform="translate(273.4 688.6) scale(1.045 1)" font-size="29" fill="#000" stroke="#000" stroke-width="0.35" text-anchor="middle" >I</text>
<text transform="translate(312.9 688.6) scale(1.045 1)" font-size="29" fill="#000" stroke="#000" stroke-width="0.35" text-anchor="middle" >II</text>
<circle cx="311.8" cy="719.9" r="0.6" fill="#000"/>
<text transform="translate(29.0 898.2) rotate(-90)" font-size="30.2" fill="#000" stroke="#000" stroke-width="0.35">I<tspan font-size="17.5" dy="9">sat</tspan><tspan dy="-9">(arb. u.)</tspan></text>
</svg></body></html>
